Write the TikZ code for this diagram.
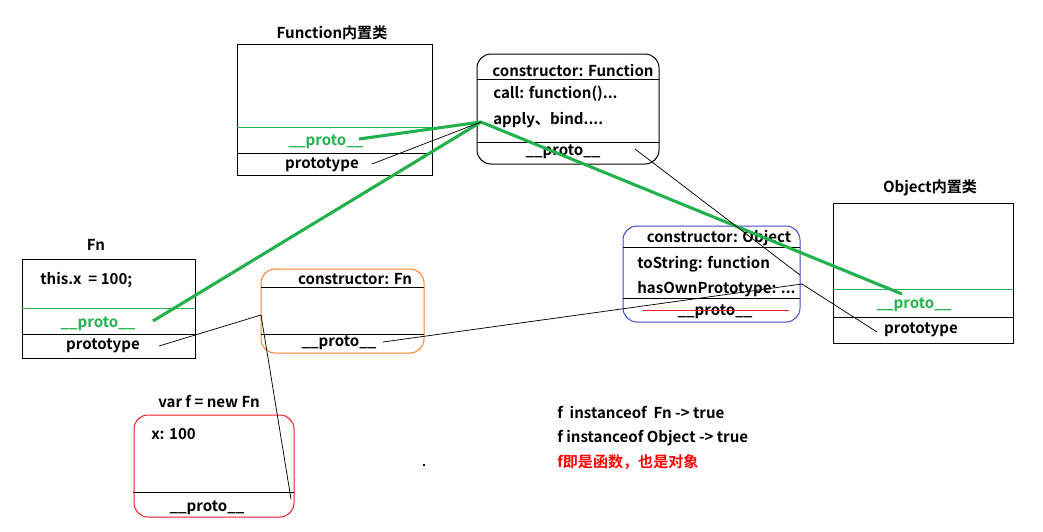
\documentclass[tikz,border=0pt]{standalone}
\usepackage{fontspec}
\setmainfont{Noto Sans CJK SC Bold}
\definecolor{pgreen}{RGB}{34,177,76}
\definecolor{porange}{RGB}{255,127,39}
\definecolor{pblue}{RGB}{63,72,204}
\definecolor{pred}{RGB}{237,28,36}
\definecolor{tred}{RGB}{255,0,0}
\tikzset{
  box/.style={draw=black, line width=0.75pt},
  rbox/.style={line width=0.75pt, rounded corners=10.5pt},
  sep/.style={draw=black, line width=0.75pt},
  gsep/.style={draw=pgreen, line width=0.75pt},
  lbl/.style={inner sep=0pt, anchor=base},
  lft/.style={inner sep=0pt, anchor=base west},
  glink/.style={draw=pgreen, line width=2.3pt},
  blink/.style={draw=black, line width=0.55pt},
}
\begin{document}
\begin{tikzpicture}[x=0.75pt,y=-0.75pt,font=\fontsize{11.3}{13}\selectfont]
\useasboundingbox (0,0) rectangle (1043,532);

% ---- Function built-in class
\node[lbl] (funTitle) at (332,38) {Function内置类};
\path[box] (237,44) rectangle (432,175);
\path[gsep] (237,127) -- (432,127);
\path[sep] (237,153) -- (432,153);
\node[lbl, text=pgreen] (funProto) at (326,145) {\_\_proto\_\_};
\node[lbl] (funPrototype) at (322,168) {prototype};
\coordinate (funProtoEnd) at (359,139);
\coordinate (funPrototypeEnd) at (372,164);

% ---- Function.prototype
\path[rbox, draw=black] (477,54) rectangle (659,164);
\path[sep] (477,79) -- (659,79);
\path[sep] (477,142) -- (659,142);
\node[lbl] (fpCtor) at (573,76) {constructor: Function};
\node[lft] (fpCall) at (493,98) {call: function()...};
\node[lft] (fpApply) at (493,124) {apply、bind....};
\node[lbl] (fpProto) at (563,155) {\_\_proto\_\_};
\coordinate (fpIn) at (481,122);
\coordinate (fpProtoEnd) at (635,149);

% ---- Object.prototype
\path[rbox, draw=pblue] (623,226) rectangle (800,322);
\path[sep] (623,247) -- (800,247);
\path[sep] (623,298) -- (800,298);
\node[lbl] (opCtor) at (719,242) {constructor: Object};
\node[lft] (opToString) at (637,268) {toString: function};
\node[lft] (opHas) at (637,293) {hasOwnPrototype: ...};
\node[lbl] (opProto) at (715,315) {\_\_proto\_\_};
\path[draw=pred, line width=0.75pt] (643,310) -- (789,310);
\coordinate (opTop) at (800,275);
\coordinate (opMid) at (802,284);

% ---- Object built-in class
\node[lbl] (objTitle) at (930,192) {Object内置类};
\path[box] (833,203) rectangle (1013,343);
\path[gsep] (833,289) -- (1013,289);
\path[sep] (833,317) -- (1013,317);
\node[lbl, text=pgreen] (objProto) at (914,308) {\_\_proto\_\_};
\node[lbl] (objPrototype) at (921,333) {prototype};
\coordinate (objProtoEnd) at (902,294);
\coordinate (objPrototypeEnd) at (877,332);

% ---- Fn
\node[lbl] (fnTitle) at (96,250) {Fn};
\path[box] (22,259) rectangle (195,358);
\path[gsep] (22,308) -- (195,308);
\path[sep] (22,334) -- (195,334);
\node[lft] (fnBody) at (40,284) {this.x\ \ = 100;};
\node[lbl, text=pgreen] (fnProto) at (98,327) {\_\_proto\_\_};
\node[lbl] (fnPrototype) at (103,349) {prototype};
\coordinate (fnProtoEnd) at (153,321);
\coordinate (fnPrototypeEnd) at (159,346);

% ---- Fn.prototype
\path[rbox, draw=porange] (261,269) rectangle (424,353);
\path[sep] (261,287) -- (424,287);
\path[sep] (261,334) -- (424,334);
\node[lbl] (fnpCtor) at (355,284) {constructor: Fn};
\node[lbl] (fnpProto) at (339,346) {\_\_proto\_\_};
\coordinate (fnpIn) at (261,315);
\coordinate (fnpProtoEnd) at (383,342);

% ---- f instance
\node[lbl] (fTitle) at (209,407) {var f = new Fn};
\path[rbox, draw=pred] (134,415) rectangle (294,517);
\path[sep] (133,492) -- (294,492);
\node[lft] (fBody) at (151,439) {x: 100};
\node[lbl] (fProto) at (207,511) {\_\_proto\_\_};
\coordinate (fProtoEnd) at (291,499);

% ---- notes
\node[lft] (note1) at (557,418) {f\ \ instanceof\ \ Fn -> true};
\node[lft] (note2) at (557,442) {f instanceof Object -> true};
\node[lft, text=tred] (note3) at (557,467) {f即是函数，也是对象};
\fill (422.5,464) rectangle (424.5,466);

% ---- green links (__proto__)
\draw[glink] (funProtoEnd) -- (fpIn);
\draw[glink] (fnProtoEnd) -- (fpIn);
\draw[glink] (fpIn) -- (objProtoEnd);

% ---- black links
\draw[blink] (funPrototypeEnd) -- (fpIn);
\draw[blink] (fnPrototypeEnd) -- (fnpIn);
\draw[blink] (fProtoEnd) -- (fnpIn);
\draw[blink] (fnpProtoEnd) -- (opMid);
\draw[blink] (opMid) -- (objPrototypeEnd);
\draw[blink] (fpProtoEnd) -- (opTop);
\end{tikzpicture}
\end{document}
